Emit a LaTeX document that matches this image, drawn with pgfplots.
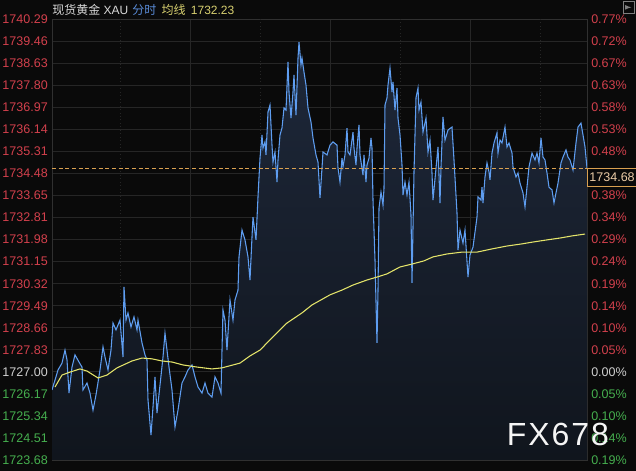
\documentclass[border=0pt]{standalone}
\usepackage{pgfplots}
\pgfplotsset{compat=1.18}
\usepackage{pgfplotstable}
\usepackage{fontspec}
\setmainfont{Liberation Sans}
\newfontfamily\cjk{Noto Sans CJK SC}

\definecolor{bg}{HTML}{0A0A0A}
\definecolor{gridc}{HTML}{262626}
\definecolor{framec}{HTML}{303030}
\definecolor{upred}{HTML}{D2404C}
\definecolor{dngreen}{HTML}{45AE4E}
\definecolor{flat}{HTML}{CFCFCF}
\definecolor{priceblue}{HTML}{5E9DF0}
\definecolor{avgyellow}{HTML}{E4E46A}
\definecolor{fillhi}{HTML}{1E283A}
\definecolor{filllo}{HTML}{10151D}
\definecolor{lastc}{HTML}{D9A050}
\definecolor{lasttxt}{HTML}{EACBA6}
\definecolor{titlew}{HTML}{D8D8D8}
\definecolor{titleb}{HTML}{5A8CD8}
\definecolor{titley}{HTML}{D8D070}

% minute index vs. price
\pgfplotstableread{
t price
0 1726.32
3 1726.69
6 1727.07
10 1727.33
13 1727.82
15 1727.45
17 1726.20
20 1727.18
23 1727.64
27 1727.37
30 1727.18
31 1726.32
35 1726.58
38 1726.20
41 1725.56
44 1726.13
48 1727.07
51 1727.94
53 1727.56
56 1727.07
59 1727.82
61 1728.84
64 1728.58
68 1728.95
71 1727.56
72 1730.20
74 1728.95
76 1729.22
79 1728.69
82 1729.07
85 1728.58
86 1728.95
90 1728.09
93 1727.64
95 1727.45
96 1725.94
99 1724.62
101 1725.68
103 1726.81
105 1725.45
108 1726.50
111 1727.56
113 1728.46
115 1727.82
117 1727.18
120 1726.32
123 1724.92
126 1725.56
130 1726.58
133 1726.81
136 1727.07
140 1727.26
143 1726.81
146 1726.43
150 1726.20
153 1726.58
156 1726.20
160 1726.05
163 1726.81
166 1726.58
169 1726.20
170 1727.82
171 1729.33
173 1728.95
175 1727.82
178 1729.71
181 1728.95
183 1729.71
186 1730.08
187 1731.33
190 1732.34
193 1731.97
196 1731.33
198 1730.46
200 1732.08
201 1732.83
204 1731.97
206 1733.59
208 1735.05
210 1735.92
211 1735.43
213 1735.66
214 1735.17
216 1736.79
218 1737.05
220 1735.54
221 1734.90
223 1735.28
225 1734.15
226 1734.98
228 1735.92
230 1736.19
232 1736.94
234 1736.86
236 1738.67
237 1737.54
239 1736.56
241 1737.54
242 1738.18
244 1736.67
246 1738.82
247 1739.42
249 1738.56
250 1738.82
252 1738.29
254 1737.80
256 1736.94
259 1736.41
261 1735.81
264 1735.17
266 1734.90
268 1733.55
270 1734.68
271 1735.28
275 1735.17
278 1735.54
281 1735.66
285 1735.54
286 1734.68
288 1734.15
290 1735.05
291 1734.72
293 1735.17
295 1736.18
296 1735.28
298 1735.17
301 1736.03
302 1735.43
304 1734.79
305 1735.43
307 1736.30
308 1735.17
311 1734.41
312 1735.17
314 1734.15
315 1734.79
317 1735.05
319 1735.81
320 1735.43
321 1733.47
323 1731.21
325 1728.09
326 1730.08
327 1733.17
329 1733.77
331 1733.28
332 1733.92
333 1737.05
335 1737.32
336 1737.80
338 1738.44
340 1737.54
341 1737.92
343 1736.86
345 1737.69
346 1736.56
348 1735.92
350 1734.79
351 1733.66
353 1734.15
355 1733.66
357 1734.15
359 1732.91
360 1730.35
362 1734.53
364 1737.32
366 1737.69
367 1736.86
369 1737.16
371 1736.03
374 1736.56
376 1735.28
378 1735.73
380 1734.49
381 1733.47
386 1735.47
388 1733.36
389 1734.72
391 1736.60
393 1735.73
396 1736.11
400 1736.22
402 1734.98
405 1732.98
406 1731.59
408 1732.34
411 1731.85
413 1732.34
416 1730.57
418 1731.40
421 1731.70
425 1732.83
426 1733.59
429 1733.47
430 1733.96
431 1733.36
433 1734.34
435 1734.87
437 1734.53
438 1734.23
440 1735.24
442 1735.62
445 1736.00
446 1735.24
448 1735.73
450 1735.62
453 1736.22
455 1735.47
457 1735.62
460 1735.24
461 1734.72
464 1734.34
466 1734.49
468 1734.11
471 1733.74
473 1733.21
475 1733.96
477 1734.72
480 1735.24
483 1734.98
485 1735.24
487 1734.87
489 1735.81
491 1735.09
493 1734.98
495 1734.49
497 1733.96
500 1733.85
502 1733.36
504 1733.74
506 1734.11
509 1734.87
511 1735.09
514 1735.36
516 1735.09
518 1734.98
521 1734.60
524 1735.62
526 1736.22
529 1736.37
531 1735.92
533 1735.47
535 1734.68
}\pricedata

% running average
\pgfplotstableread{
t avg
3 1726.43
10 1726.88
18 1726.99
28 1727.11
35 1727.03
46 1726.77
55 1726.88
65 1727.15
80 1727.41
90 1727.52
100 1727.49
110 1727.41
120 1727.37
131 1727.26
145 1727.18
160 1727.11
170 1727.15
181 1727.26
188 1727.33
198 1727.60
208 1727.82
220 1728.28
235 1728.84
250 1729.22
260 1729.52
278 1729.90
290 1730.08
301 1730.27
315 1730.46
325 1730.57
335 1730.69
348 1730.95
360 1731.06
372 1731.18
381 1731.33
395 1731.44
410 1731.51
425 1731.51
440 1731.63
455 1731.74
470 1731.82
481 1731.89
495 1731.97
508 1732.04
520 1732.12
533 1732.19
}\avgdata

\pgfplotsset{
  quote/.style={
    width=401.25pt, height=330.75pt, scale only axis,
    at={(39pt,8.25pt)}, anchor=south west,
    xmin=0, xmax=535, ymin=1723.68, ymax=1740.29,
    ytick={1723.68,1724.51,1725.34,1726.17,1727.00,1727.83,1728.66,1729.49,1730.32,1731.15,1731.98,1732.81,1733.65,1734.48,1735.31,1736.14,1736.97,1737.80,1738.63,1739.46,1740.29},
    major tick length=0pt,
    tick label style={font=\fontsize{9.4}{11}\selectfont},
  }
}

\begin{document}
\begin{tikzpicture}
\fill[bg] (0,0) rectangle (477pt,353.25pt);
\useasboundingbox (0,0) rectangle (477pt,353.25pt);

\begin{axis}[quote,
  axis line style={framec},
  ymajorgrids, xmajorgrids,
  grid style={gridc, line width=0.6pt},
  xtick={138,278,418}, xticklabels={},
  extra x ticks={68,208,348,488}, extra x tick labels={},
  extra x tick style={grid style={gridc, dotted, line width=0.6pt}},
  yticklabel style={anchor=east, inner sep=0pt, xshift=-3pt},
  yticklabels={
    \textcolor{dngreen}{1723.68},\textcolor{dngreen}{1724.51},\textcolor{dngreen}{1725.34},\textcolor{dngreen}{1726.17},
    \textcolor{flat}{1727.00},
    \textcolor{upred}{1727.83},\textcolor{upred}{1728.66},\textcolor{upred}{1729.49},\textcolor{upred}{1730.32},
    \textcolor{upred}{1731.15},\textcolor{upred}{1731.98},\textcolor{upred}{1732.81},\textcolor{upred}{1733.65},
    \textcolor{upred}{1734.48},\textcolor{upred}{1735.31},\textcolor{upred}{1736.14},\textcolor{upred}{1736.97},
    \textcolor{upred}{1737.80},\textcolor{upred}{1738.63},\textcolor{upred}{1739.46},\textcolor{upred}{1740.29}},
]
\addplot[draw=none, shade, top color=fillhi, bottom color=filllo]
  table[x=t, y=price] {\pricedata}
  -- (axis cs:535,1723.68) -- (axis cs:0,1723.68) -- cycle;
\addplot[priceblue, line width=0.8pt] table[x=t, y=price] {\pricedata};
\addplot[avgyellow, line width=0.8pt] table[x=t, y=avg] {\avgdata};
\addplot[lastc, line width=0.6pt, dash pattern=on 3pt off 2pt] coordinates {(0,1734.68) (535,1734.68)};
\end{axis}

\begin{axis}[quote, clip=false,
  axis x line=none, axis y line*=right,
  y axis line style={draw=none},
  yticklabel style={anchor=west, inner sep=0pt, xshift=3pt},
  yticklabels={
    \textcolor{dngreen}{0.19\%},\textcolor{dngreen}{0.14\%},\textcolor{dngreen}{0.10\%},\textcolor{dngreen}{0.05\%},
    \textcolor{flat}{0.00\%},
    \textcolor{upred}{0.05\%},\textcolor{upred}{0.10\%},\textcolor{upred}{0.14\%},\textcolor{upred}{0.19\%},
    \textcolor{upred}{0.24\%},\textcolor{upred}{0.29\%},\textcolor{upred}{0.34\%},\textcolor{upred}{0.38\%},
    {},\textcolor{upred}{0.48\%},\textcolor{upred}{0.53\%},\textcolor{upred}{0.58\%},
    \textcolor{upred}{0.63\%},\textcolor{upred}{0.67\%},\textcolor{upred}{0.72\%},\textcolor{upred}{0.77\%}},
]
\addplot[draw=none] coordinates {(0,1727)};
\node[anchor=north west, draw=lastc, fill=bg, text=lasttxt, line width=0.6pt,
  inner sep=1.5pt, minimum height=13.5pt, font=\fontsize{9.4}{11}\selectfont]
  at (axis cs:535,1734.68) {1734.68};
\end{axis}

% title
\node[anchor=west, inner sep=0pt, font=\fontsize{9}{11}\selectfont] at (39pt,345.5pt)
  {\textcolor{titlew}{{\cjk 现货黄金} XAU}\hspace{3pt}\textcolor{titleb}{\cjk 分时}\hspace{4pt}\textcolor{titley}{\cjk 均线}\hspace{4pt}\textcolor{titley}{1732.23}};
% expand icon
\draw[gray, line width=0.5pt] (467.5pt,343.5pt) rectangle (476pt,352pt);
\draw[gray, line width=0.6pt, -latex] (469pt,347.75pt) -- (473.5pt,347.75pt);
% watermark
\node[anchor=west, inner sep=0pt, text=white!92!gray,
  font=\fontsize{24}{28}\selectfont\addfontfeature{LetterSpace=6}] at (380pt,27.2pt) {FX678};
\end{tikzpicture}
\end{document}
